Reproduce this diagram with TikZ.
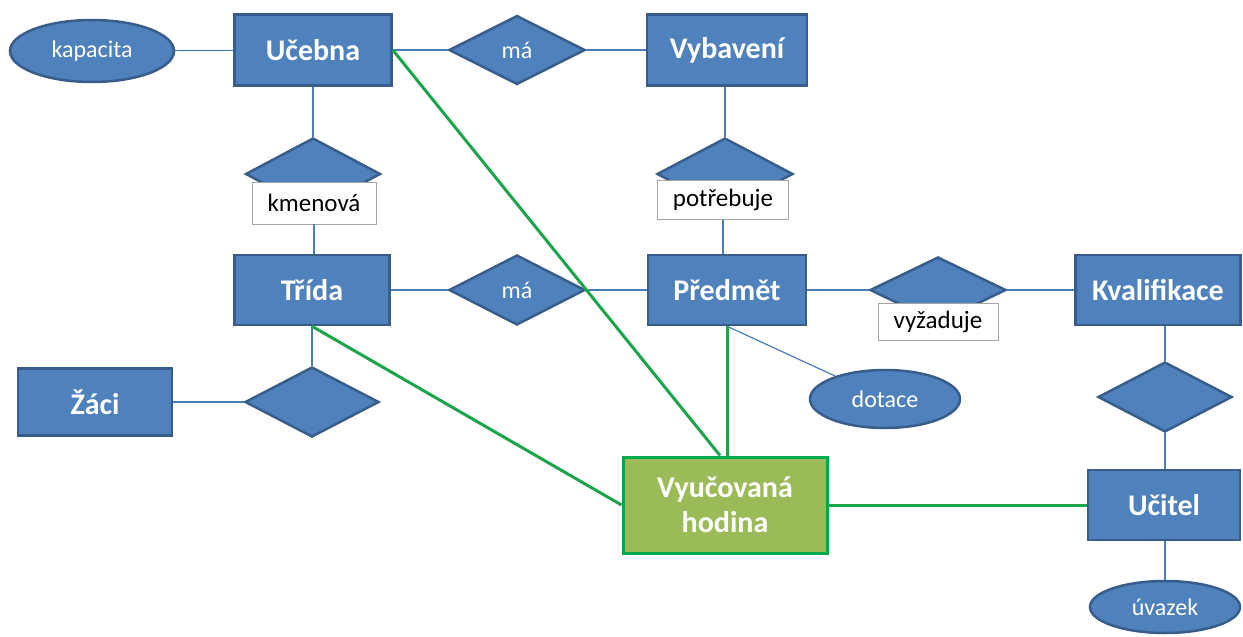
\documentclass[tikz,border=0pt]{standalone}
\usepackage{fontspec}
\setmainfont{Carlito}
\usetikzlibrary{shapes.geometric}
\definecolor{entfill}{HTML}{4F81BD}
\definecolor{entline}{HTML}{385D8A}
\definecolor{conn}{HTML}{4A7EBB}
\definecolor{vhfill}{HTML}{9BBB59}
\definecolor{vhline}{HTML}{00A84F}
\definecolor{gline}{HTML}{1BA54A}
\definecolor{lblline}{HTML}{A6A6A6}
\tikzset{
  entity/.style={rectangle, fill=entfill, draw=entline, line width=2.5pt, inner sep=0pt,
    text=white, font=\fontsize{30}{32}\selectfont\bfseries},
  attr/.style={ellipse, fill=entfill, draw=entline, line width=2.5pt, inner sep=0pt,
    text=white, font=\fontsize{24}{26}\selectfont},
  rel/.style={diamond, fill=entfill, draw=entline, line width=2.5pt, inner sep=0pt,
    text=white, font=\fontsize{24}{26}\selectfont},
  lbl/.style={rectangle, fill=white, draw=lblline, line width=0.8pt, inner sep=0pt,
    text=black, font=\fontsize{25}{27}\selectfont},
  vh/.style={rectangle, fill=vhfill, draw=vhline, line width=3pt, inner sep=0pt,
    text=white, align=center, font=\fontsize{30}{35}\selectfont\bfseries},
  thin/.style={draw=conn, line width=1.2pt},
  green/.style={draw=gline, line width=3pt},
}
\begin{document}
\begin{tikzpicture}[x=1pt,y=-1pt]
\useasboundingbox (0,0) rectangle (1243,637);
% entities
\node[entity, minimum width=157pt, minimum height=71pt] (ucebna) at (313,50) {Učebna};
\node[entity, minimum width=160pt, minimum height=71pt] (vybaveni) at (727,50) {Vybavení};
\node[entity, minimum width=155pt, minimum height=70pt] (trida) at (312,290) {Třída};
\node[entity, minimum width=158pt, minimum height=70pt] (predmet) at (727,290) {Předmět};
\node[entity, minimum width=165pt, minimum height=70pt] (kval) at (1158,290) {Kvalifikace};
\node[entity, minimum width=154pt, minimum height=67pt] (zaci) at (95,402) {Žáci};
\node[entity, minimum width=152pt, minimum height=70pt] (ucitel) at (1164,505) {Učitel};
\node[vh, minimum width=204pt, minimum height=96pt] (vh) at (725,505) {Vyučovaná\\hodina};
% attributes
\node[attr, minimum width=164pt, minimum height=62pt] (kapacita) at (92,51) {kapacita};
\node[attr, minimum width=150pt, minimum height=58pt] (dotace) at (885,399) {dotace};
\node[attr, minimum width=150pt, minimum height=52pt] (uvazek) at (1165,607) {úvazek};
% relationships
\node[rel, minimum width=136pt, minimum height=69pt] (ma1) at (517,50) {má};
\node[rel, minimum width=136pt, minimum height=70pt] (ma2) at (517,290) {má};
\node[rel, minimum width=135pt, minimum height=72pt] (kmenD) at (313,174) {};
\node[rel, minimum width=136pt, minimum height=72pt] (potrD) at (725,174) {};
\node[rel, minimum width=136pt, minimum height=66pt] (vyzD) at (938,290) {};
\node[rel, minimum width=134pt, minimum height=70pt] (zaciD) at (312,402) {};
\node[rel, minimum width=134pt, minimum height=70pt] (kvalD) at (1165,397) {};
% labels
\node[lbl, minimum width=124pt, minimum height=42pt] (kmen) at (314,203) {kmenová};
\node[lbl, minimum width=131pt, minimum height=39pt] (potr) at (723,200) {potřebuje};
\node[lbl, minimum width=120pt, minimum height=37pt] (vyz) at (938,322) {vyžaduje};
% thin connectors
\draw[thin] (kapacita) -- (ucebna);
\draw[thin] (ucebna) -- (ma1);
\draw[thin] (ma1) -- (vybaveni);
\draw[thin] (ucebna.south) -- (kmenD.north);
\draw[thin] (kmen.south) -- (kmen.south |- trida.north);
\draw[thin] (vybaveni.south -| potrD.north) -- (potrD.north);
\draw[thin] (potr.south) -- (potr.south |- predmet.north);
\draw[thin] (trida) -- (ma2);
\draw[thin] (ma2) -- (predmet);
\draw[thin] (predmet) -- (vyzD.west);
\draw[thin] (vyzD.east) -- (kval);
\draw[thin] (kval.south -| kvalD.north) -- (kvalD.north);
\draw[thin] (kvalD.south) -- (kvalD.south |- ucitel.north);
\draw[thin] (ucitel.south -| uvazek.north) -- (uvazek.north);
\draw[thin] (predmet.south) -- (dotace);
\draw[thin] (trida.south) -- (zaciD.north);
\draw[thin] (zaciD.west) -- (zaci.east);
% green connectors
\draw[green] (ucebna.east) -- ([xshift=-5pt]vh.north);
\draw[green] (trida.south) -- (vh.west);
\draw[green] (predmet.south) -- (predmet.south |- vh.north);
\draw[green] (vh.east) -- (ucitel.west);
\end{tikzpicture}
\end{document}
